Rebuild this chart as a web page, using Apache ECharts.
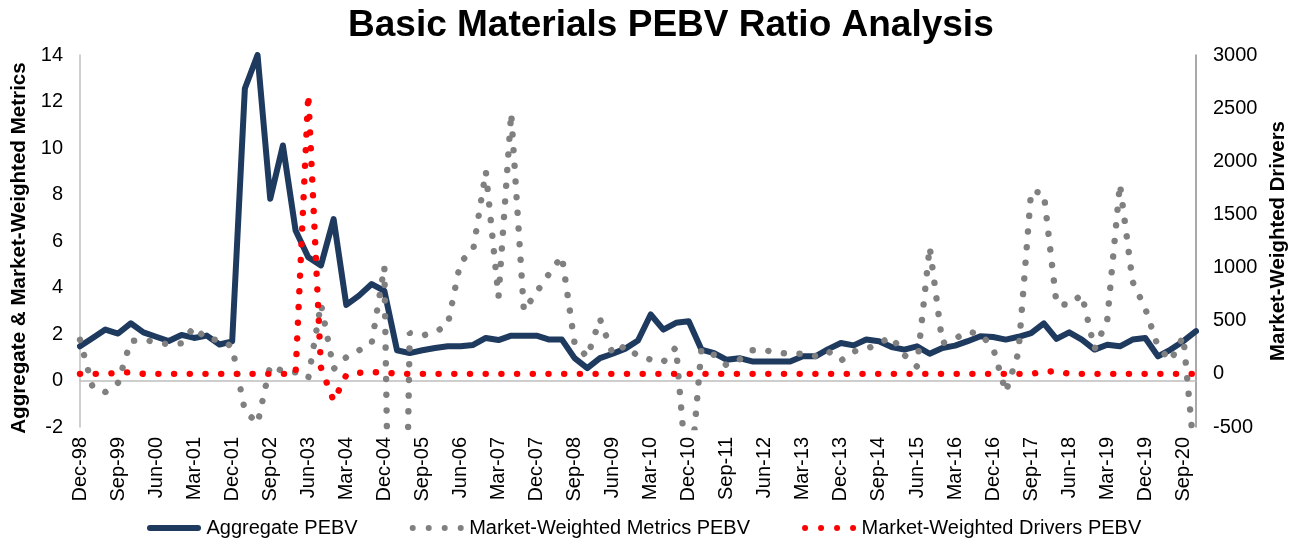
<!DOCTYPE html>
<html>
<head>
<meta charset="utf-8">
<title>Basic Materials PEBV Ratio Analysis</title>
<script src="https://cdn.jsdelivr.net/npm/echarts@6/dist/echarts.min.js"></script>
<style>
  html, body { margin: 0; padding: 0; background: #fff; }
  #chart { width: 1297px; height: 548px; }
</style>
</head>
<body>
<div id="chart"></div>
<script>
// quarters, Dec-98 .. Dec-20
const quarters = [
  'Dec-98',
  'Mar-99', 'Jun-99', 'Sep-99', 'Dec-99',
  'Mar-00', 'Jun-00', 'Sep-00', 'Dec-00',
  'Mar-01', 'Jun-01', 'Sep-01', 'Dec-01',
  'Mar-02', 'Jun-02', 'Sep-02', 'Dec-02',
  'Mar-03', 'Jun-03', 'Sep-03', 'Dec-03',
  'Mar-04', 'Jun-04', 'Sep-04', 'Dec-04',
  'Mar-05', 'Jun-05', 'Sep-05', 'Dec-05',
  'Mar-06', 'Jun-06', 'Sep-06', 'Dec-06',
  'Mar-07', 'Jun-07', 'Sep-07', 'Dec-07',
  'Mar-08', 'Jun-08', 'Sep-08', 'Dec-08',
  'Mar-09', 'Jun-09', 'Sep-09', 'Dec-09',
  'Mar-10', 'Jun-10', 'Sep-10', 'Dec-10',
  'Mar-11', 'Jun-11', 'Sep-11', 'Dec-11',
  'Mar-12', 'Jun-12', 'Sep-12', 'Dec-12',
  'Mar-13', 'Jun-13', 'Sep-13', 'Dec-13',
  'Mar-14', 'Jun-14', 'Sep-14', 'Dec-14',
  'Mar-15', 'Jun-15', 'Sep-15', 'Dec-15',
  'Mar-16', 'Jun-16', 'Sep-16', 'Dec-16',
  'Mar-17', 'Jun-17', 'Sep-17', 'Dec-17',
  'Mar-18', 'Jun-18', 'Sep-18', 'Dec-18',
  'Mar-19', 'Jun-19', 'Sep-19', 'Dec-19',
  'Mar-20', 'Jun-20', 'Sep-20', 'Dec-20'
];

// Aggregate PEBV (left axis)
const aggregatePEBV = [
  1.47,
  1.83, 2.19, 2.02, 2.46,
  2.07, 1.88, 1.70, 1.96,
  1.83, 1.93, 1.55, 1.68,
  12.56, 14.0, 7.82, 10.11,
  6.45, 5.30, 4.95, 6.94,
  3.25, 3.65, 4.15, 3.85,
  1.30, 1.18, 1.30, 1.40,
  1.47, 1.47, 1.53, 1.83,
  1.74, 1.93, 1.93, 1.93,
  1.76, 1.76, 0.96, 0.53,
  0.96, 1.15, 1.37, 1.72,
  2.84, 2.19, 2.48, 2.55,
  1.33, 1.18, 0.89, 0.96,
  0.82, 0.82, 0.82, 0.82,
  1.04, 1.04, 1.35, 1.61,
  1.51, 1.76, 1.69, 1.44,
  1.33, 1.47, 1.15, 1.40,
  1.50, 1.69, 1.90, 1.87,
  1.76, 1.88, 2.04, 2.46,
  1.79, 2.07, 1.76, 1.33,
  1.54, 1.47, 1.76, 1.83,
  1.04, 1.33, 1.69, 2.12
];

// Market-Weighted Metrics PEBV (left axis)
const metricsPEBV = [
  1.75,
  -0.3, -0.5, -0.1, 1.7,
  1.75, 1.65, 1.55, 1.6,
  2.3, 1.76, 1.76, 1.45,
  -1.3, -1.85, 0.65, 0.4,
  0.35, 0.1, 3.3, 0.5,
  1.0, 1.3, 1.6, 4.9,
  -30, 2.05, 1.93, 2.08,
  2.4, 5.1, 5.6, 9.0,
  3.6, 11.5, 3.0, 3.8,
  4.6, 5.35, 1.6, 1.0,
  2.65, 1.15, 1.5, 1.05,
  0.9, 0.8, 1.43, -5.0,
  1.35, 1.1, 0.65, 0.9,
  1.3, 1.3, 1.2, 1.15,
  1.15, 1.05, 1.25, 0.85,
  1.25, 1.35, 1.6, 1.88,
  1.1, 0.6, 5.75, 1.6,
  1.8, 2.1, 2.0, 1.4,
  -0.5, 1.2, 8.15, 8.05,
  3.3, 3.25, 3.7, 1.35,
  2.6, 8.45, 4.25, 3.1,
  1.45, 0.85, 1.9, -4.0
];

// Market-Weighted Drivers PEBV (right axis)
const driversPEBV = [
  0,
  0, 0, 10, 15,
  0, 0, 0, 0,
  0, 0, 0, 0,
  0, 0, 0, 0,
  0, 2630, 60, -255,
  -10, 10, 15, 15,
  0, 0, 0, 0,
  0, 0, 0, 0,
  0, 0, 0, 0,
  0, 0, 0, 0,
  0, 0, 0, 0,
  0, 0, 0, 0,
  0, 0, 0, 0,
  0, 0, 0, 0,
  0, 0, 0, 0,
  0, 0, 0, 0,
  0, 0, 0, 0,
  0, 0, 0, 0,
  0, 0, 0, 20,
  25, 0, 0, 0,
  0, 0, 0, 0,
  0, 0, 0, 0
];

const FONT = '"Liberation Sans", Arial, sans-serif';

// legend icons: a thick rounded bar and a row of four dots
const ICON_LINE = 'path://M3,0L51,0A3,3,0,0,1,51,6L3,6A3,3,0,0,1,3,0Z';
const ICON_DOTS = 'path://M0,3A3,3,0,1,0,6,3A3,3,0,1,0,0,3Z' +
  'M16,3A3,3,0,1,0,22,3A3,3,0,1,0,16,3Z' +
  'M32,3A3,3,0,1,0,38,3A3,3,0,1,0,32,3Z' +
  'M48,3A3,3,0,1,0,54,3A3,3,0,1,0,48,3Z';

const chart = echarts.init(document.getElementById('chart'));

const dotted = (color) => ({
  color: color,
  width: 6.4,
  type: [0.1, 15.6],
  cap: 'round'
});

chart.setOption({
  animation: false,
  textStyle: { fontFamily: FONT, color: '#000' },
  title: {
    text: 'Basic Materials PEBV Ratio Analysis',
    left: 343,
    top: 2,
    textStyle: { fontFamily: FONT, fontSize: 37, fontWeight: 'bold', color: '#000' }
  },
  legend: {
    left: 142,
    bottom: 5,
    itemWidth: 55,
    itemHeight: 6,
    itemGap: 52,
    textStyle: { fontFamily: FONT, fontSize: 20, color: '#000' },
    data: [
      { name: 'Aggregate PEBV', icon: ICON_LINE },
      { name: 'Market-Weighted Metrics PEBV', icon: ICON_DOTS },
      { name: 'Market-Weighted Drivers PEBV', icon: ICON_DOTS }
    ]
  },
  grid: { left: 80, right: 101, top: 55, bottom: 121 },
  xAxis: [
    {
      type: 'category',
      data: quarters,
      boundaryGap: false,
      axisLine: { show: false, onZero: false },
      axisTick: { show: false },
      axisLabel: {
        interval: 2,
        rotate: 90,
        margin: 10,
        fontFamily: FONT,
        fontSize: 20,
        color: '#000'
      }
    },
    {
      // the zero line
      type: 'category',
      data: quarters,
      boundaryGap: false,
      position: 'bottom',
      axisLine: { show: true, onZero: true, lineStyle: { color: '#bfbfbf', width: 1.5 } },
      axisTick: { show: false },
      axisLabel: { show: false }
    }
  ],
  yAxis: [
    {
      type: 'value',
      min: -2,
      max: 14,
      interval: 2,
      name: 'Aggregate & Market-Weighted Metrics',
      nameLocation: 'middle',
      nameRotate: 90,
      nameGap: 46,
      nameTextStyle: {
        fontFamily: FONT,
        fontSize: 20.6,
        fontWeight: 'bold',
        color: '#000',
        padding: [0, 14, 0, 0]
      },
      axisLine: { show: true, lineStyle: { color: '#bfbfbf', width: 1.5 } },
      axisTick: { show: false },
      splitLine: { show: false },
      axisLabel: { margin: 17, fontFamily: FONT, fontSize: 20, color: '#000' }
    },
    {
      type: 'value',
      min: -500,
      max: 3000,
      interval: 500,
      name: 'Market-Weighted Drivers',
      nameLocation: 'middle',
      nameRotate: 90,
      nameGap: 72,
      nameTextStyle: { fontFamily: FONT, fontSize: 20.4, fontWeight: 'bold', color: '#000' },
      axisLine: { show: true, lineStyle: { color: '#8c8c8c', width: 1.5 } },
      axisTick: { show: false },
      splitLine: { show: false },
      axisLabel: {
        margin: 17,
        fontFamily: FONT,
        fontSize: 20,
        color: '#000',
        formatter: (v) => String(v)
      }
    }
  ],
  series: [
    {
      name: 'Aggregate PEBV',
      type: 'line',
      data: aggregatePEBV,
      symbol: 'none',
      lineStyle: { color: '#1f3a5f', width: 6, join: 'round', cap: 'round' },
      itemStyle: { color: '#1f3a5f' }
    },
    {
      name: 'Market-Weighted Metrics PEBV',
      type: 'line',
      data: metricsPEBV,
      symbol: 'none',
      lineStyle: dotted('#808080'),
      itemStyle: { color: '#808080' }
    },
    {
      name: 'Market-Weighted Drivers PEBV',
      type: 'line',
      yAxisIndex: 1,
      data: driversPEBV,
      symbol: 'none',
      lineStyle: dotted('#ff0000'),
      itemStyle: { color: '#ff0000' }
    }
  ]
});
</script>
</body>
</html>
